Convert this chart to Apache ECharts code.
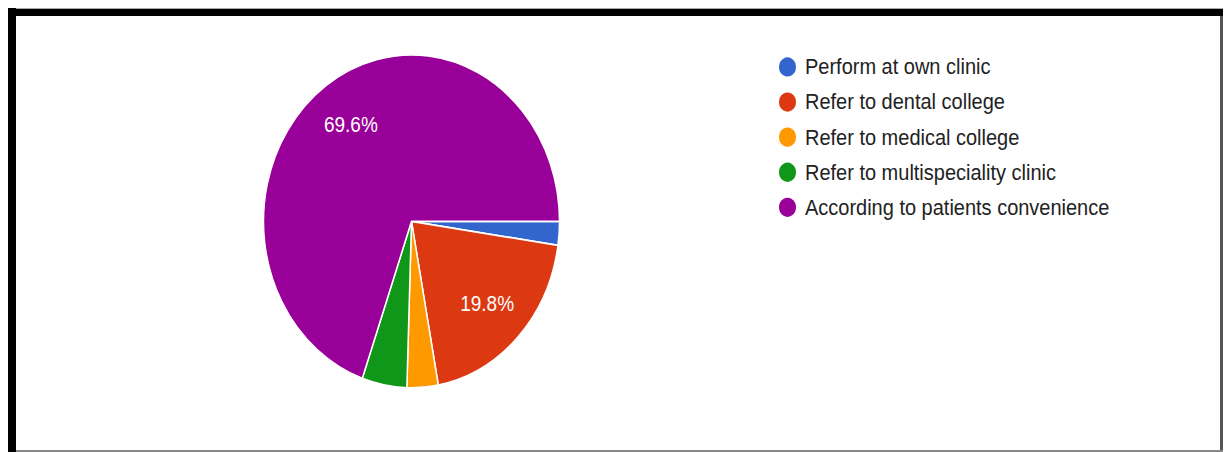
<!DOCTYPE html>
<html>
<head>
<meta charset="utf-8">
<script src="https://cdn.jsdelivr.net/npm/echarts@6/dist/echarts.min.js"></script>
<style>
  html, body { margin: 0; padding: 0; background: #ffffff; }
  body { width: 1224px; height: 452px; position: relative; overflow: hidden; }
  /* chart drawn at 402px tall and stretched vertically to fill the frame */
  #chart { position: absolute; left: 0; top: 0; width: 1224px; height: 402px;
           transform: scaleY(1.125); transform-origin: 0 0; }
  .edge { position: absolute; z-index: 2; }
  #top { left: 8px; top: 8px; width: 1215px; height: 8px; background: #000; border-top: 1px solid #aaa; box-sizing: border-box; }
  #left { left: 8px; top: 8px; width: 8px; height: 444px; background: #000; }
  #right { left: 1220px; top: 16px; width: 3px; height: 436px; background: #555; }
  #bottom { left: 16px; top: 450px; width: 1207px; height: 2px; background: #888; }
</style>
</head>
<body>
<div id="chart"></div>
<div class="edge" id="top"></div>
<div class="edge" id="left"></div>
<div class="edge" id="right"></div>
<div class="edge" id="bottom"></div>
<script>
// Where respondents send the procedure (percent of answers)
const categories = [
  'Perform at own clinic',
  'Refer to dental college',
  'Refer to medical college',
  'Refer to multispeciality clinic',
  'According to patients convenience'
];
const shares = [2.3, 19.8, 3.4, 4.9, 69.6];
const colors = ['#3366cc', '#dc3912', '#ff9900', '#109618', '#990099'];

const chart = echarts.init(document.getElementById('chart'), null, { renderer: 'svg' });

const sliceData = categories.map((name, i) => ({
  name: name,
  value: shares[i],
  itemStyle: { color: colors[i] }
}));

const center = [411.5, 196.8];
const outerR = 148;

chart.setOption({
  animation: false,
  backgroundColor: 'transparent',
  legend: {
    orient: 'vertical',
    left: 772,
    top: 44,
    icon: 'circle',
    itemWidth: 19,
    itemHeight: 19,
    itemGap: 10.2,
    selectedMode: false,
    data: categories.map((name, i) => ({ name: name, itemStyle: { color: colors[i] } })),
    textStyle: {
      fontFamily: '"Liberation Sans", Arial, sans-serif',
      fontSize: 20,
      color: '#222222',
      padding: [0, 0, 0, 3]
    }
  },
  series: [
    {
      name: 'slices',
      type: 'pie',
      center: center,
      radius: [0, outerR],
      startAngle: 0,
      clockwise: true,
      silent: true,
      label: { show: false },
      labelLine: { show: false },
      itemStyle: { borderColor: '#ffffff', borderWidth: 1.5 },
      data: sliceData
    },
    {
      // transparent ring used only to place the percentage labels further out
      name: 'labels',
      type: 'pie',
      center: center,
      radius: [56, outerR],
      startAngle: 0,
      clockwise: true,
      silent: true,
      itemStyle: { color: 'rgba(0,0,0,0)', borderWidth: 0 },
      labelLine: { show: false },
      label: {
        show: true,
        position: 'inside',
        color: '#ffffff',
        fontFamily: '"Liberation Sans", Arial, sans-serif',
        fontSize: 19,
        formatter: p => (p.value >= 10 ? p.value.toFixed(1) + '%' : '')
      },
      data: categories.map((name, i) => ({ name: name, value: shares[i] }))
    }
  ]
});
</script>
</body>
</html>
